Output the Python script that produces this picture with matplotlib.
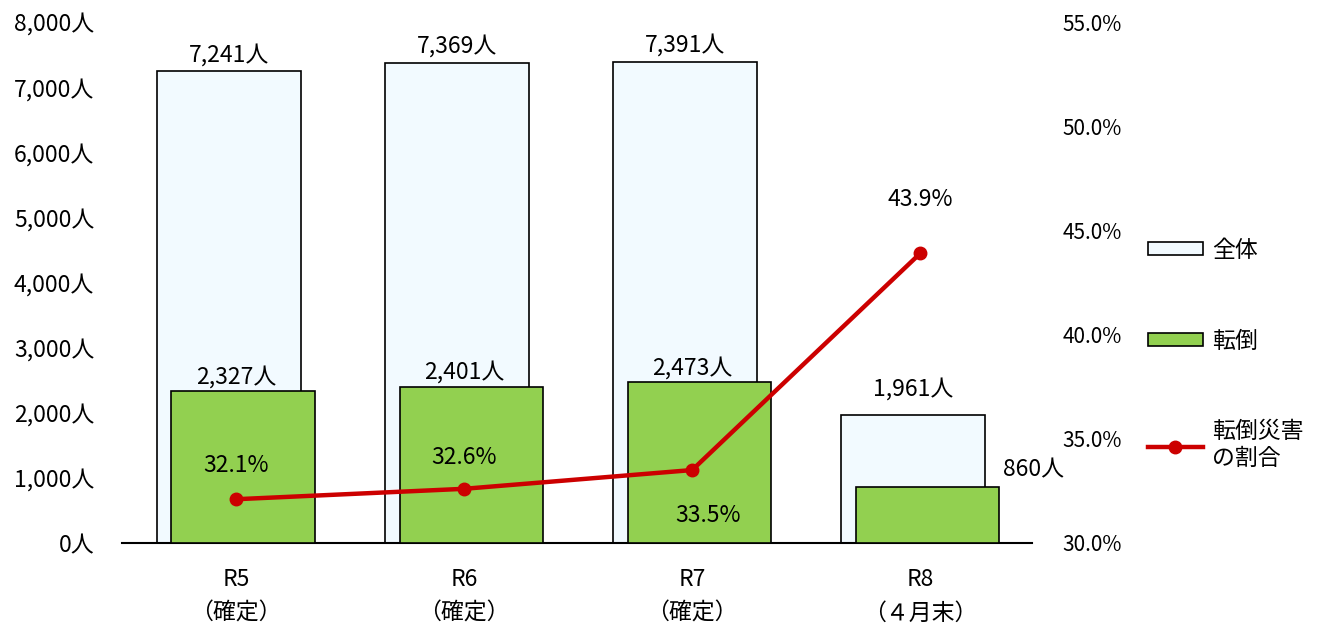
import matplotlib.pyplot as plt
import numpy as np
from matplotlib.patches import Patch
from matplotlib.lines import Line2D

plt.rcParams['font.family'] = ['Noto Sans CJK JP', 'DejaVu Sans']

categories = ["R5\n（確定）", "R6\n（確定）", "R7\n（確定）", "R8\n（４月末）"]
total = [7241, 7369, 7391, 1961]
falls = [2327, 2401, 2473, 860]
ratio = [32.1, 32.6, 33.5, 43.9]

x = np.arange(len(categories))
w = 0.63
off = 0.032
fs = 16.5

fig = plt.figure(figsize=(13.17, 6.33), dpi=100)
ax = fig.add_axes([0.0926, 0.1422, 0.6910, 0.8230])
ax2 = ax.twinx()

ax.bar(x - off, total, w, color='#F2FAFF', edgecolor='black', linewidth=1.2, zorder=2)
ax.bar(x + off, falls, w, color='#92D050', edgecolor='black', linewidth=1.2, zorder=3)

ax.set_xlim(-0.5, 3.49)
ax.set_ylim(0, 8000)
ax.set_yticks(np.arange(0, 8001, 1000))
ax.set_yticklabels([f"{v:,}人" for v in range(0, 8001, 1000)], fontsize=fs)
ax.set_xticks(x)
ax.set_xticklabels(categories, fontsize=fs, linespacing=1.6)
ax.tick_params(axis='both', length=0)
ax.tick_params(axis='y', pad=20)
ax.tick_params(axis='x', pad=18)

for s in ['left', 'right', 'top']:
    ax.spines[s].set_visible(False)
    ax2.spines[s].set_visible(False)
ax.spines['bottom'].set_linewidth(1.5)
ax2.spines['bottom'].set_visible(False)

# bar value labels
for i in range(3):
    ax.text(x[i] - off, total[i] + 80, f"{total[i]:,}人", ha='center', va='bottom', fontsize=fs)
    ax.text(x[i] + off - 0.03, falls[i] + 40, f"{falls[i]:,}人", ha='center', va='bottom', fontsize=fs)
ax.text(x[3] - off, total[3] + 220, f"{total[3]:,}人", ha='center', va='bottom', fontsize=fs)
ax.text(x[3] + off + 0.33, falls[3] + 80, f"{falls[3]:,}人", ha='left', va='bottom', fontsize=fs)

ax2.plot(x, ratio, color='#CC0000', linewidth=3.2, marker='o', markersize=9, zorder=5)
ax2.set_ylim(30, 55)
ax2.set_yticks(np.arange(30, 55.1, 5))
ax2.set_yticklabels([f"{v:.1f}%" for v in np.arange(30, 55.1, 5)], fontsize=15)
ax2.tick_params(axis='y', length=0, pad=22)

pct_pos = [(0, 33.7), (1, 34.1), (2.07, 31.3), (3, 46.5)]
for (px, py), r in zip(pct_pos, ratio):
    ax2.text(px, py, f"{r:.1f}%", ha='center', va='center', fontsize=fs)

handles = [Patch(facecolor='#F2FAFF', edgecolor='black', linewidth=1.2),
           Patch(facecolor='#92D050', edgecolor='black', linewidth=1.2),
           Line2D([], [], color='#CC0000', linewidth=3.2, marker='o', markersize=9)]
labels = ["全体", "転倒", "転倒災害\nの割合"]
fig.legend(handles, labels, loc='upper left', bbox_to_anchor=(0.856, 0.655), frameon=False,
           fontsize=fs, handlelength=2.4, handleheight=0.5, labelspacing=2.95, handletextpad=0.4)

fig.savefig('out.png', dpi=100)
